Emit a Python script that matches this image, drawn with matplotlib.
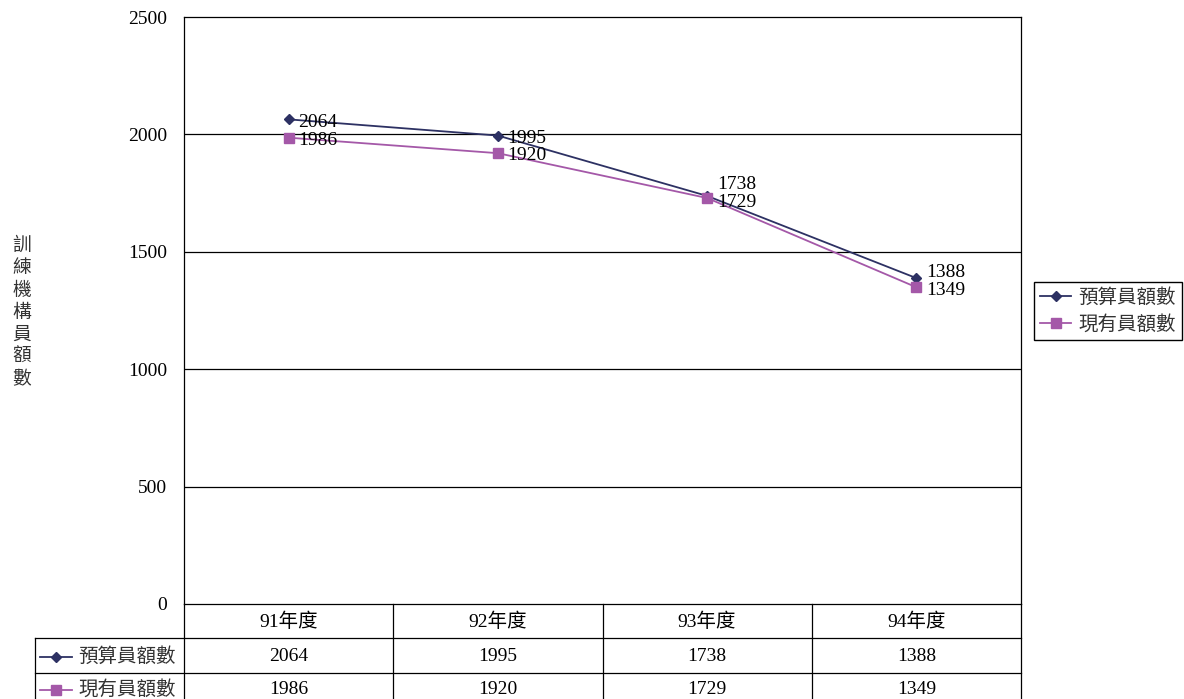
import matplotlib.pyplot as plt
from matplotlib.lines import Line2D

plt.rcParams['font.family'] = ['Liberation Serif', 'Noto Sans CJK TC']

#------------------------------------------------------------------------------------
# Data
#------------------------------------------------------------------------------------
years = ['91年度', '92年度', '93年度', '94年度']
budget = [2064, 1995, 1738, 1388]
actual = [1986, 1920, 1729, 1349]
series_names = ['預算員額數', '現有員額數']
ylabel_text = '訓練機構員額數'
yticks = [0, 500, 1000, 1500, 2000, 2500]

navy = '#2d3163'
purple = '#a458a8'
W, H = 1184, 699
FS = 14

fig = plt.figure(figsize=(W / 100, H / 100), dpi=100)

# plot box in pixel coordinates
L, R, T, B = 184, 1021, 17, 604
ax = fig.add_axes([L / W, 1 - B / H, (R - L) / W, (B - T) / H])
x = list(range(len(years)))
ax.plot(x, budget, color=navy, lw=1.3, marker='D', ms=5.5, zorder=3)
ax.plot(x, actual, color=purple, lw=1.3, marker='s', ms=6.5, zorder=3)
ax.set_xlim(-0.5, len(years) - 0.5)
ax.set_ylim(0, 2500)
ax.set_yticks(yticks)
ax.set_yticklabels([str(v) for v in yticks], fontsize=FS)
ax.set_xticks([])
ax.tick_params(axis='y', length=0, pad=12)
for v in yticks[1:-1]:
    ax.axhline(v, color='black', lw=0.9, zorder=1)
for s in ax.spines.values():
    s.set_color('black')
    s.set_linewidth(0.9)

# value labels beside the points (vertical nudges in points)
budget_dy = [-2, -2, 8, 4]
actual_dy = [-2, -2, -3, -2]
for i in x:
    ax.annotate(str(budget[i]), (i, budget[i]), xytext=(7, budget_dy[i]),
                textcoords='offset points', va='center', ha='left', fontsize=FS)
    ax.annotate(str(actual[i]), (i, actual[i]), xytext=(7, actual_dy[i]),
                textcoords='offset points', va='center', ha='left', fontsize=FS)

# vertical y-axis title
fig.text(22 / W, 1 - 313 / H, '\n'.join(ylabel_text), ha='center', va='center',
         fontsize=13.5, color='#333333', linespacing=1.38)

#------------------------------------------------------------------------------------
# Legend on the right
#------------------------------------------------------------------------------------
handles = [Line2D([], [], color=navy, marker='D', ms=5.5, lw=1.3),
           Line2D([], [], color=purple, marker='s', ms=6.5, lw=1.3)]
fig.legend(handles, series_names, loc='upper left',
           bbox_to_anchor=(1034 / W, 1 - 282 / H), fontsize=FS,
           frameon=True, fancybox=False, edgecolor='black', framealpha=1,
           handlelength=1.6, handletextpad=0.35, borderpad=0.32,
           labelspacing=0.42, borderaxespad=0, labelcolor='#333333')

#------------------------------------------------------------------------------------
# Data table under the plot
#------------------------------------------------------------------------------------
tab = fig.add_axes([0, 0, 1, 1])
tab.set_xlim(0, W)
tab.set_ylim(H, 0)
tab.axis('off')

col_edges = [L + (R - L) * k / len(years) for k in range(len(years) + 1)]
row_edges = [B, 638, 673, 708]
lw = 0.9
for xe in col_edges:
    tab.plot([xe, xe], [B, H], color='black', lw=lw)
tab.plot([35, 35], [row_edges[1], H], color='black', lw=lw)
for ye in row_edges[1:3]:
    tab.plot([35, R], [ye, ye], color='black', lw=lw)

for k, lab in enumerate(years):
    xc = (col_edges[k] + col_edges[k + 1]) / 2
    tab.text(xc, (row_edges[0] + row_edges[1]) / 2 + 1, lab, ha='center', va='center', fontsize=FS)
    tab.text(xc, (row_edges[1] + row_edges[2]) / 2 + 1, str(budget[k]), ha='center', va='center', fontsize=FS)
    tab.text(xc, (row_edges[2] + row_edges[3]) / 2 - 1, str(actual[k]), ha='center', va='center', fontsize=FS)

for r, (name, col, mk, ms) in enumerate([(series_names[0], navy, 'D', 5.5),
                                          (series_names[1], purple, 's', 6.5)]):
    yc = (row_edges[r + 1] + row_edges[r + 2]) / 2 + (1 if r == 0 else -1)
    tab.plot([40, 72], [yc, yc], color=col, lw=1.3)
    tab.plot([56], [yc], color=col, marker=mk, ms=ms)
    tab.text(78, yc, name, ha='left', va='center', fontsize=FS, color='#333333')

fig.savefig('out.png', dpi=100)
